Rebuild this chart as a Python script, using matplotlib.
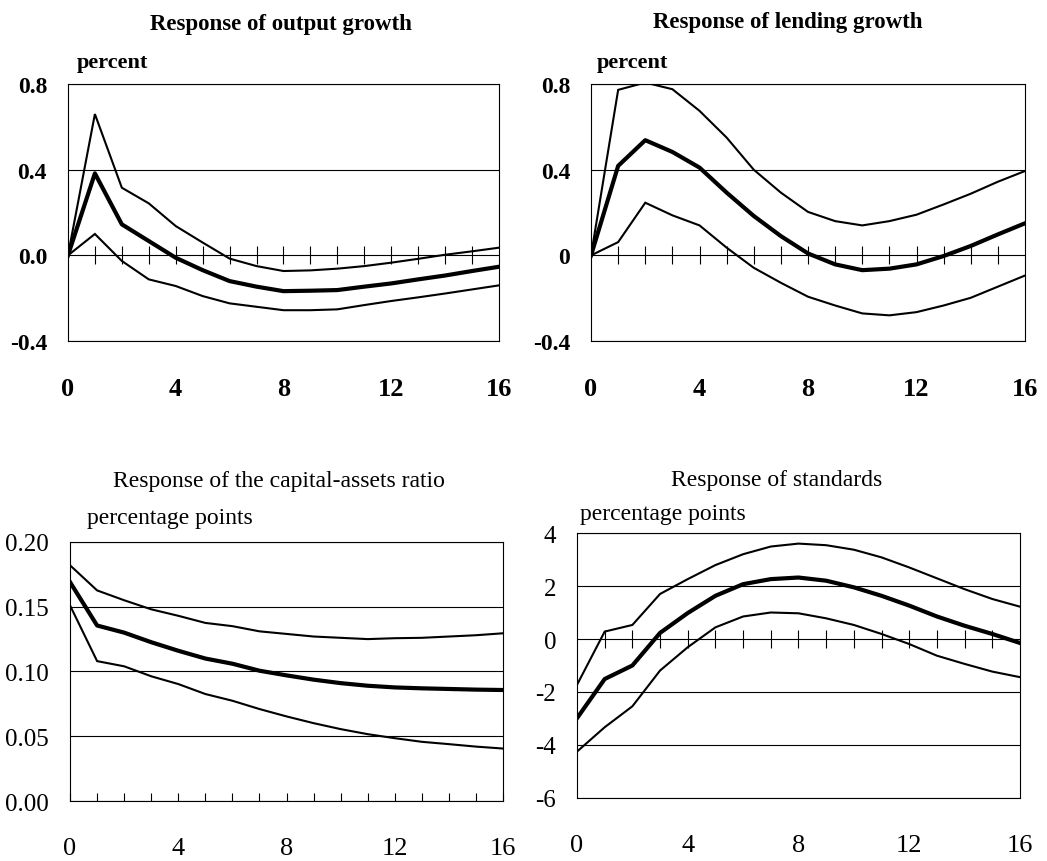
import numpy as np
import matplotlib.pyplot as plt

plt.rcParams['font.family'] = ['Liberation Serif', 'DejaVu Serif']

quarters = np.arange(17)

# impulse responses: lower band, point estimate, upper band
output_lo = [0, 0.10, -0.026, -0.112, -0.143, -0.19, -0.224, -0.24, -0.256, -0.256,
             -0.252, -0.232, -0.213, -0.196, -0.178, -0.159, -0.14]
output_mid = [0, 0.383, 0.145, 0.067, -0.011, -0.069, -0.12, -0.146, -0.167, -0.165,
              -0.162, -0.146, -0.131, -0.112, -0.094, -0.073, -0.053]
output_hi = [0, 0.66, 0.316, 0.243, 0.137, 0.06, -0.015, -0.05, -0.073, -0.07,
             -0.062, -0.05, -0.034, -0.016, 0.003, 0.019, 0.036]

lending_lo = [0, 0.062, 0.246, 0.187, 0.14, 0.036, -0.058, -0.128, -0.193, -0.234,
              -0.271, -0.28, -0.265, -0.234, -0.198, -0.146, -0.094]
lending_mid = [0, 0.418, 0.538, 0.483, 0.41, 0.293, 0.184, 0.09, 0.009, -0.042,
               -0.069, -0.062, -0.042, -0.003, 0.044, 0.098, 0.15]
lending_hi = [0, 0.773, 0.807, 0.776, 0.675, 0.55, 0.40, 0.293, 0.203, 0.16,
              0.14, 0.16, 0.19, 0.238, 0.288, 0.344, 0.394]

capital_lo = [0.151, 0.108, 0.104, 0.0963, 0.0903, 0.0826, 0.0774, 0.071, 0.0653, 0.0601,
              0.0555, 0.0516, 0.0485, 0.0457, 0.0439, 0.042, 0.0405]
capital_mid = [0.169, 0.1355, 0.130, 0.1226, 0.116, 0.110, 0.106, 0.1006, 0.097, 0.0937,
               0.091, 0.089, 0.0877, 0.087, 0.0865, 0.086, 0.0857]
capital_hi = [0.182, 0.1626, 0.155, 0.148, 0.143, 0.1375, 0.135, 0.131, 0.129, 0.127,
              0.126, 0.125, 0.1257, 0.126, 0.127, 0.128, 0.1295]

standards_lo = [-4.25, -3.33, -2.54, -1.19, -0.31, 0.44, 0.85, 1.0, 0.97, 0.78,
                0.53, 0.19, -0.19, -0.63, -0.94, -1.23, -1.44]
standards_mid = [-2.99, -1.51, -1.0, 0.23, 0.98, 1.63, 2.07, 2.26, 2.32, 2.2,
                 1.95, 1.63, 1.26, 0.85, 0.5, 0.19, -0.15]
standards_hi = [-1.73, 0.28, 0.53, 1.70, 2.26, 2.79, 3.2, 3.49, 3.6, 3.54,
                3.37, 3.08, 2.70, 2.29, 1.88, 1.51, 1.22]

panels = [
    dict(title='Response of output growth', unit='percent',
         lo=output_lo, mid=output_mid, hi=output_hi,
         yticks=[-0.4, 0.0, 0.4, 0.8], ylabels=['-0.4', '0.0', '0.4', '0.8'],
         rect=[0.0649, 0.6032, 0.4117, 0.2981], bold=True, ysize=17,
         title_xy=(0.268, 0.972), unit_xy=(0.0735, 0.927), zero_ticks=True),
    dict(title='Response of lending growth', unit='percent',
         lo=lending_lo, mid=lending_mid, hi=lending_hi,
         yticks=[-0.4, 0.0, 0.4, 0.8], ylabels=['-0.4', '0', '0.4', '0.8'],
         rect=[0.5645, 0.6032, 0.4145, 0.2981], bold=True, ysize=17,
         title_xy=(0.752, 0.974), unit_xy=(0.570, 0.927), zero_ticks=True),
    dict(title='Response of the capital-assets ratio', unit='percentage points',
         lo=capital_lo, mid=capital_mid, hi=capital_hi,
         yticks=[0.0, 0.05, 0.10, 0.15, 0.20],
         ylabels=['0.00', '0.05', '0.10', '0.15', '0.20'],
         rect=[0.0669, 0.0696, 0.4136, 0.3005], bold=False, ysize=18,
         title_xy=(0.266, 0.441), unit_xy=(0.083, 0.399), zero_ticks=False),
    dict(title='Response of standards', unit='percentage points',
         lo=standards_lo, mid=standards_mid, hi=standards_hi,
         yticks=[-6, -4, -2, 0, 2, 4], ylabels=['-6', '-4', '-2', '0', '2', '4'],
         rect=[0.5511, 0.0731, 0.4231, 0.3074], bold=False, ysize=18,
         title_xy=(0.742, 0.443), unit_xy=(0.554, 0.403), zero_ticks=True),
]

fig = plt.figure(figsize=(10.47, 8.62), dpi=100)

for p in panels:
    weight = 'bold' if p['bold'] else 'normal'
    ax = fig.add_axes(p['rect'])
    ax.plot(quarters, p['hi'], color='black', lw=1.5, solid_joinstyle='miter')
    ax.plot(quarters, p['lo'], color='black', lw=1.5, solid_joinstyle='miter')
    ax.plot(quarters, p['mid'], color='black', lw=3.0)

    ax.set_xlim(0, 16)
    ax.set_ylim(p['yticks'][0], p['yticks'][-1])
    ax.set_yticks(p['yticks'])
    ax.set_yticklabels(p['ylabels'])
    ax.set_xticks([0, 4, 8, 12, 16])
    ax.set_xticklabels(['0', '4', '8', '12', '16'])

    ax.yaxis.grid(True, color='black', lw=0.8)
    ax.set_axisbelow(True)
    ax.tick_params(axis='y', length=0, pad=15, labelsize=p['ysize'])
    for lab in ax.get_yticklabels():
        lab.set_fontweight(weight)

    if p['zero_ticks']:
        ax.tick_params(axis='x', length=0, pad=26, labelsize=19)
        ax.plot(quarters[1:-1], np.zeros(15), ls='none', marker='|',
                ms=13, mew=0.8, color='black', clip_on=False)
    else:
        ax.set_xticks(quarters, minor=True)
        ax.tick_params(axis='x', which='both', direction='in', length=6,
                       width=0.8, labelsize=19)
        ax.tick_params(axis='x', which='major', pad=26)
    for lab in ax.get_xticklabels():
        lab.set_fontweight(weight)

    for s in ax.spines.values():
        s.set_linewidth(0.8)

    fig.text(p['title_xy'][0], p['title_xy'][1], p['title'], ha='center',
             va='center', fontsize=16.5 if p['bold'] else 17, fontweight=weight)
    fig.text(p['unit_xy'][0], p['unit_xy'][1], p['unit'], ha='left',
             va='center', fontsize=16 if p['bold'] else 17, fontweight=weight)

fig.savefig('out.png', dpi=100)
